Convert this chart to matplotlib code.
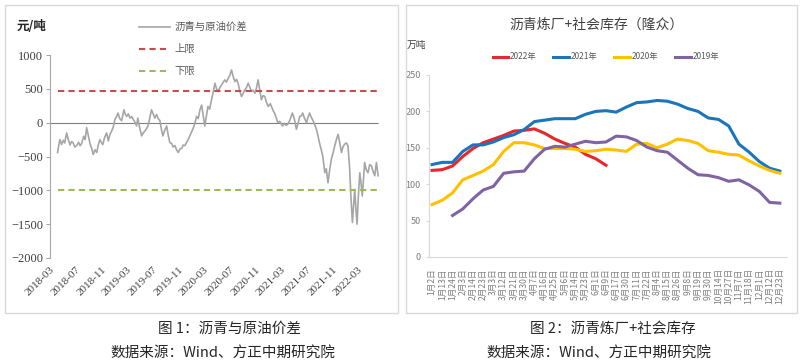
import matplotlib
matplotlib.use("Agg")
import matplotlib.pyplot as plt
from matplotlib.patches import Rectangle
import numpy as np
import pandas as pd

plt.rcParams['font.family'] = ['Noto Sans CJK SC', 'DejaVu Sans']

# ---- 图1 数据：沥青与原油价差（元/吨）----
spread_dates = [
    "2018-04-06", "2018-04-12", "2018-04-17", "2018-04-25", "2018-05-03", "2018-05-10", "2018-05-19", "2018-05-26",
    "2018-06-04", "2018-06-11", "2018-06-18", "2018-06-27", "2018-07-06", "2018-07-15", "2018-07-22", "2018-07-29",
    "2018-08-08", "2018-08-15", "2018-08-22", "2018-08-29", "2018-09-07", "2018-09-15", "2018-09-22", "2018-10-01",
    "2018-10-09", "2018-10-16", "2018-10-24", "2018-11-01", "2018-11-07", "2018-11-15", "2018-11-25", "2018-12-03",
    "2018-12-10", "2018-12-19", "2018-12-27", "2019-01-03", "2019-01-10", "2019-01-18", "2019-01-26", "2019-02-04",
    "2019-02-15", "2019-02-22", "2019-02-28", "2019-03-08", "2019-03-16", "2019-03-24", "2019-03-31", "2019-04-08",
    "2019-04-16", "2019-04-22", "2019-05-01", "2019-05-10", "2019-05-18", "2019-05-26", "2019-06-02", "2019-06-09",
    "2019-06-17", "2019-06-26", "2019-07-04", "2019-07-12", "2019-07-20", "2019-07-28", "2019-08-05", "2019-08-12",
    "2019-08-19", "2019-08-27", "2019-09-06", "2019-09-13", "2019-09-21", "2019-09-30", "2019-10-07", "2019-10-15",
    "2019-10-23", "2019-10-31", "2019-11-08", "2019-11-16", "2019-11-24", "2019-12-01", "2019-12-09", "2019-12-17",
    "2019-12-25", "2020-01-01", "2020-01-08", "2020-01-17", "2020-01-26", "2020-02-03", "2020-02-11", "2020-02-19",
    "2020-02-26", "2020-03-05", "2020-03-12", "2020-03-20", "2020-03-28", "2020-04-06", "2020-04-14", "2020-04-22",
    "2020-04-30", "2020-05-07", "2020-05-16", "2020-05-24", "2020-06-01", "2020-06-08", "2020-06-16", "2020-06-24",
    "2020-07-02", "2020-07-10", "2020-07-18", "2020-07-26", "2020-08-03", "2020-08-10", "2020-08-18", "2020-08-26",
    "2020-09-03", "2020-09-11", "2020-09-19", "2020-09-27", "2020-10-05", "2020-10-13", "2020-10-21", "2020-10-29",
    "2020-11-06", "2020-11-13", "2020-11-21", "2020-11-29", "2020-12-07", "2020-12-15", "2020-12-23", "2020-12-31",
    "2021-01-10", "2021-01-22", "2021-02-02", "2021-02-15", "2021-02-24", "2021-03-03", "2021-03-10", "2021-03-18",
    "2021-03-26", "2021-04-03", "2021-04-12", "2021-04-25", "2021-05-04", "2021-05-14", "2021-05-22", "2021-05-30",
    "2021-06-06", "2021-06-13", "2021-06-22", "2021-07-01", "2021-07-08", "2021-07-16", "2021-07-22", "2021-07-29",
    "2021-08-08", "2021-08-17", "2021-08-25", "2021-09-02", "2021-09-09", "2021-09-16", "2021-09-26", "2021-10-03",
    "2021-10-11", "2021-10-19", "2021-10-27", "2021-11-04", "2021-11-12", "2021-11-20", "2021-11-28", "2021-12-06",
    "2021-12-14", "2021-12-22", "2021-12-29", "2022-01-07", "2022-01-14", "2022-01-22", "2022-01-28", "2022-02-04",
    "2022-02-10", "2022-02-15", "2022-02-21", "2022-02-26", "2022-03-04", "2022-03-11", "2022-03-17", "2022-03-23",
    "2022-03-29", "2022-04-03", "2022-04-11", "2022-04-19", "2022-04-27", "2022-05-05", "2022-05-13", "2022-05-21",
    "2022-05-29", "2022-06-06",
]
spread_vals = [
    -441, -330, -250, -323, -260, -300, -152, -240,
    -330, -280, -294, -360, -338, -290, -340, -309,
    -200, -250, -74, -180, -309, -380, -470, -400,
    -441, -330, -250, -300, -323, -220, -152, -270,
    -180, -122, -60, 49, 80, 142, 60, 30,
    191, 120, 93, 130, 68, 90, 49, 10,
    -49, 68, -80, -196, -150, -122, -90, -49,
    60, 191, 130, 68, 120, 60, 30, -100,
    -196, -120, -49, -180, -294, -310, -360, -338,
    -400, -441, -390, -380, -330, -340, -294, -250,
    -196, -150, -98, -20, 93, 60, 191, 260,
    120, -49, 90, 240, 200, 338, 450, 583,
    500, 460, 520, 558, 600, 632, 600, 656,
    700, 779, 680, 607, 640, 583, 470, 387,
    430, 485, 520, 583, 520, 460, 480, 436,
    520, 632, 480, 338, 400, 387, 300, 240,
    280, 191, 120, 0, 20, -20, -49, -10,
    -40, -25, 30, 142, 60, -98, -10, 93,
    100, 142, 60, 0, 80, 142, 90, 49,
    -20, -98, -200, -318, -400, -490, -740, -680,
    -887, -700, -539, -450, -343, -250, -172, -300,
    -441, -350, -318, -300, -343, -686, -1100, -1475,
    -1200, -985, -1300, -1500, -1100, -740, -900, -1083,
    -800, -588, -700, -740, -620, -637, -720, -784,
    -588, -784,
]
upper_limit = 475
lower_limit = -1000

# ---- 图2 数据：沥青炼厂+社会库存（万吨）----
week_labels = [
    "1月2日", "1月13日", "1月24日", "2月3日", "2月14日", "2月23日", "3月3日", "3月12日", "3月21日",
    "3月30日", "4月7日", "4月16日", "4月25日", "5月6日", "5月14日", "5月23日", "6月1日", "6月9日",
    "6月17日", "6月30日", "7月11日", "7月22日", "8月4日", "8月15日", "8月26日", "9月8日", "9月19日",
    "9月30日", "10月14日", "10月27日", "11月7日", "11月18日", "12月1日", "12月12日", "12月23日",
]
nan = np.nan
inv_2022 = [119, 120, 125, 138, 149, 157, 162, 167, 173, 174, 176, 170, 162, 156, 151, 141, 135, 126] + [nan] * 17
inv_2021 = [127, 130, 130, 145, 154, 154, 158, 164, 168, 175, 186, 188, 190, 190, 190, 196, 200, 201,
            199, 206, 212, 213, 215, 214, 210, 204, 200, 191, 189, 180, 155, 144, 131, 122, 118]
inv_2020 = [72, 78, 88, 106, 112, 118, 127, 145, 157, 157, 154, 149, 149, 149, 148, 145, 146, 148,
            147, 145, 155, 156, 150, 155, 162, 160, 156, 146, 144, 141, 140, 132, 125, 119, 115]
inv_2019 = [nan, nan, 57, 66, 80, 92, 97, 115, 117, 118, 135, 148, 152, 151, 155, 159, 157, 158,
            166, 165, 160, 151, 146, 144, 133, 122, 113, 112, 109, 104, 106, 99, 90, 75, 74]

W, H = 804, 364
fig = plt.figure(figsize=(W / 100, H / 100), dpi=100)

def fx(px):
    return px / W

def fy(py):
    return 1 - py / H

# 两个面板的浅灰边框
for x0, x1 in [(5, 398), (406, 797)]:
    fig.patches.append(Rectangle((fx(x0), fy(313)), (x1 - x0) / W, 308 / H,
                                 transform=fig.transFigure, fill=False, ec="#d9d9d9", lw=1))

# ---------------- 图1 ----------------
ax1 = fig.add_axes([fx(50), fy(258), 330 / W, (258 - 55) / H])
d = pd.to_datetime(spread_dates)
x_start = pd.Timestamp("2018-03-01")
x_end = pd.Timestamp("2022-06-15")

ax1.hlines(0, x_start, d[-1], color="#7f7f7f", lw=0.8)
l_spread, = ax1.plot(d, spread_vals, color="#a6a6a6", lw=1.2, label="沥青与原油价差")
l_up = ax1.hlines(upper_limit, d[0], d[-1], color="#c0504d", lw=1.5, linestyles=(0, (3, 2)), label="上限")
l_low = ax1.hlines(lower_limit, d[0], d[-1], color="#9bbb59", lw=1.5, linestyles=(0, (3, 2)), label="下限")

ax1.set_xlim(x_start, x_end)
ax1.set_ylim(-2000, 1000)
ax1.set_yticks(range(-2000, 1001, 500))
ticks = pd.date_range("2018-03-01", "2022-03-01", freq="4MS")
ax1.set_xticks(ticks)
ax1.set_xticklabels([t.strftime("%Y-%m") for t in ticks], rotation=45, ha="right",
                    rotation_mode="anchor", family="Liberation Serif", fontsize=8, color="#404040")
for lab in ax1.get_yticklabels():
    lab.set_family("Liberation Serif")
ax1.tick_params(axis="y", labelsize=9, colors="#404040", length=3, color="#a6a6a6", pad=2)
ax1.tick_params(axis="x", length=0, pad=5)
for s in ["top", "right", "bottom"]:
    ax1.spines[s].set_visible(False)
ax1.spines["left"].set_color("#a6a6a6")

fig.text(fx(32), fy(27), "元/吨", ha="center", va="center", fontsize=9, fontweight="bold", color="#262626")
fig.legend(handles=[l_spread, l_up, l_low], loc="upper left", bbox_to_anchor=(fx(139), fy(22)),
           frameon=False, fontsize=7.5, handlelength=3.0, labelspacing=1.15, handletextpad=0.4,
           borderaxespad=0, borderpad=0, labelcolor="#595959")

# ---------------- 图2 ----------------
ax2 = fig.add_axes([fx(429), fy(257), 358 / W, 182 / H])
x = np.arange(len(week_labels))
ax2.plot(x, inv_2022, color="#e8262b", lw=2.2, label="2022年")
ax2.plot(x, inv_2021, color="#1a75bb", lw=2.2, label="2021年")
ax2.plot(x, inv_2020, color="#ffc000", lw=2.2, label="2020年")
ax2.plot(x, inv_2019, color="#8064a2", lw=2.2, label="2019年")

ax2.set_xlim(-0.3, 34.7)
ax2.set_ylim(0, 250)
ax2.set_yticks(range(0, 251, 50))
ax2.set_xticks(x)
ax2.set_xticklabels(week_labels, rotation=90, fontsize=6.2, color="#7f7f7f")
ax2.tick_params(axis="x", length=0, pad=8)
ax2.tick_params(axis="y", labelsize=6.5, colors="#7f7f7f", length=2, color="#d9d9d9", pad=4)
for s in ["top", "right"]:
    ax2.spines[s].set_visible(False)
for s in ["left", "bottom"]:
    ax2.spines[s].set_color("#d9d9d9")
    ax2.spines[s].set_linewidth(0.8)

fig.text(fx(597), fy(25), "沥青炼厂+社会库存（隆众）", ha="center", va="center", fontsize=10, color="#404040")
fig.text(fx(416), fy(45), "万吨", ha="center", va="center", fontsize=7, color="#404040")
ax2.legend(loc="center", bbox_to_anchor=(fx(606), fy(57)), bbox_transform=fig.transFigure, ncol=4,
           frameon=False, fontsize=6, handlelength=1.9, handletextpad=0.2, columnspacing=2.0,
           labelcolor="#595959")

# 图注
fig.text(fx(230), fy(329), "图 1：沥青与原油价差", ha="center", va="center", fontsize=10.5, color="#262626")
fig.text(fx(223), fy(353), "数据来源：Wind、方正中期研究院", ha="center", va="center", fontsize=10.5, color="#262626")
fig.text(fx(613), fy(329), "图 2：沥青炼厂+社会库存", ha="center", va="center", fontsize=10.5, color="#262626")
fig.text(fx(599), fy(353), "数据来源：Wind、方正中期研究院", ha="center", va="center", fontsize=10.5, color="#262626")

fig.savefig("out.png", dpi=100)
